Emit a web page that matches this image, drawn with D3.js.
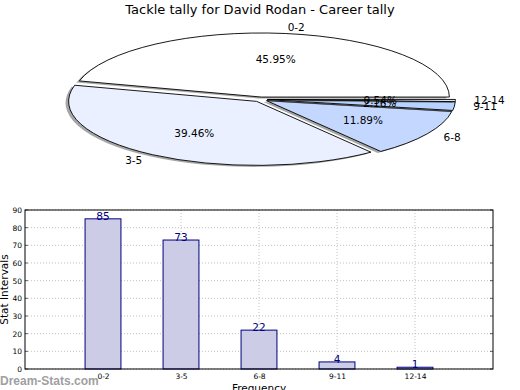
<!DOCTYPE html>
<html><head><meta charset="utf-8">
<script src="https://cdn.jsdelivr.net/npm/d3@7"></script>
<style>body{margin:0;background:#fff;} svg{display:block;font-family:"DejaVu Sans",sans-serif;}</style>
</head><body>
<script>
const title = "Tackle tally for David Rodan - Career tally";
const categories = ["0-2","3-5","6-8","9-11","12-14"];
const values = [85,73,22,4,1];
const pieColors = ["#ffffff","#eaf0ff","#c4d8ff","#b8d2ff","#dde8ff"];
const yTicks = [0,10,20,30,40,50,60,70,80,90];

const W=520,H=390;
const svg=d3.select("body").append("svg").attr("width",W).attr("height",H);
svg.append("rect").attr("width",W).attr("height",H).attr("fill","#fff");

svg.append("text").attr("x",260).attr("y",14).attr("text-anchor","middle")
  .attr("font-size",13).text(title);

// ---- Pie (matplotlib-like: start 3 o'clock, counter-clockwise, exploded, shadow)
const cx=260.5, cy=99.4, rx=188, ry=64, ex=0.037;
const total=d3.sum(values);
let acc=0;
const slices=values.map((v,i)=>{const a0=acc/total*2*Math.PI; acc+=v; const a1=acc/total*2*Math.PI; return {i,v,a0,a1,m:(a0+a1)/2};});
const arc=d3.arc().innerRadius(0).outerRadius(1);
const pieG=svg.append("g");
slices.forEach(s=>{
  const dx=ex*Math.cos(s.m)*rx, dy=-ex*Math.sin(s.m)*ry;
  const d=arc({startAngle:Math.PI/2-s.a1,endAngle:Math.PI/2-s.a0});
  // shadow
  pieG.append("path").attr("d",d)
    .attr("transform",`translate(${cx+dx-3},${cy+dy+1.5}) scale(${rx},${ry})`)
    .attr("fill","#4d4d4d").attr("fill-opacity",0.5).attr("stroke","none");
  pieG.append("path").attr("d",d)
    .attr("transform",`translate(${cx+dx},${cy+dy}) scale(${rx},${ry})`)
    .attr("fill",pieColors[s.i]).attr("stroke","#000").attr("stroke-width",0.9)
    .attr("vector-effect","non-scaling-stroke").attr("stroke-linejoin","round");
});
slices.forEach(s=>{
  const dx=ex*Math.cos(s.m)*rx, dy=-ex*Math.sin(s.m)*ry;
  const c=Math.cos(s.m), sn=Math.sin(s.m);
  const lx=cx+dx+1.1*rx*c, ly=cy+dy-1.1*ry*sn;
  pieG.append("text").attr("x",lx).attr("y",ly).attr("dy","0.35em")
    .attr("text-anchor",c>0?"start":"end").attr("font-size",10.5).text(categories[s.i]);
  const px=cx+dx+0.6*rx*c, py=cy+dy-0.6*ry*sn;
  pieG.append("text").attr("x",px).attr("y",py).attr("dy","0.35em")
    .attr("text-anchor","middle").attr("font-size",10.5)
    .text((s.v/total*100).toFixed(2)+"%");
});

// ---- Bar chart
const L=25,R=493,T=210,B=369;
const x=d3.scaleLinear().domain([0,6]).range([L,R]);
const y=d3.scaleLinear().domain([0,90]).range([B,T]);
const barW=x(0.46)-x(0);
const g=svg.append("g");
// grid
g.selectAll(".hg").data(yTicks).enter().append("line")
  .attr("x1",L).attr("x2",R).attr("y1",d=>y(d)).attr("y2",d=>y(d))
  .attr("stroke","#b0b0b0").attr("stroke-width",0.8).attr("stroke-dasharray","1,2");
g.selectAll(".vg").data(categories).enter().append("line")
  .attr("x1",(d,i)=>x(i+1)).attr("x2",(d,i)=>x(i+1)).attr("y1",T).attr("y2",B)
  .attr("stroke","#b0b0b0").attr("stroke-width",0.8).attr("stroke-dasharray","1,2");
// bars
g.selectAll(".bar").data(values).enter().append("rect")
  .attr("x",(d,i)=>x(i+1)-barW/2).attr("width",barW)
  .attr("y",d=>y(d)).attr("height",d=>B-y(d))
  .attr("fill","#ccccE6").attr("stroke","#000080").attr("stroke-width",1);
g.selectAll(".vl").data(values).enter().append("text")
  .attr("x",(d,i)=>x(i+1)).attr("y",d=>y(d)+1).attr("text-anchor","middle")
  .attr("font-size",10.5).attr("fill","#000080").text(d=>d);
// frame
g.append("rect").attr("x",L).attr("y",T).attr("width",R-L).attr("height",B-T)
  .attr("fill","none").attr("stroke","#000").attr("stroke-width",1);
// axes
const ya=d3.axisLeft(y).tickValues(yTicks).tickSize(0).tickPadding(3);
const yg=g.append("g").attr("transform",`translate(${L},0)`).call(ya);
yg.select(".domain").remove();
yg.selectAll("text").attr("font-size",7.5).attr("font-family","DejaVu Sans");
// inner tick marks left/right
g.selectAll(".ytl").data(yTicks).enter().append("line")
  .attr("x1",L).attr("x2",L+3).attr("y1",d=>y(d)).attr("y2",d=>y(d)).attr("stroke","#000").attr("stroke-width",0.6);
g.selectAll(".ytr").data(yTicks).enter().append("line")
  .attr("x1",R-3).attr("x2",R).attr("y1",d=>y(d)).attr("y2",d=>y(d)).attr("stroke","#000").attr("stroke-width",0.6);
const xa=d3.axisBottom(x).tickValues([1,2,3,4,5]).tickFormat((d)=>categories[d-1]).tickSize(0).tickPadding(5);
const xg=g.append("g").attr("transform",`translate(0,${B})`).call(xa);
xg.select(".domain").remove();
xg.selectAll("text").attr("font-size",7.5).attr("font-family","DejaVu Sans");

svg.append("text").attr("transform",`translate(8,${(T+B)/2}) rotate(-90)`)
  .attr("text-anchor","middle").attr("font-size",10.5).text("Stat Intervals");
svg.append("text").attr("x",(L+R)/2).attr("y",392).attr("text-anchor","middle")
  .attr("font-size",10.5).text("Frequency");
svg.append("text").attr("x",0).attr("y",385).attr("font-size",12).attr("font-weight","bold")
  .attr("fill","#a0a0a0").attr("font-family","Liberation Sans, sans-serif").text("Dream-Stats.com");
</script>
</body></html>
